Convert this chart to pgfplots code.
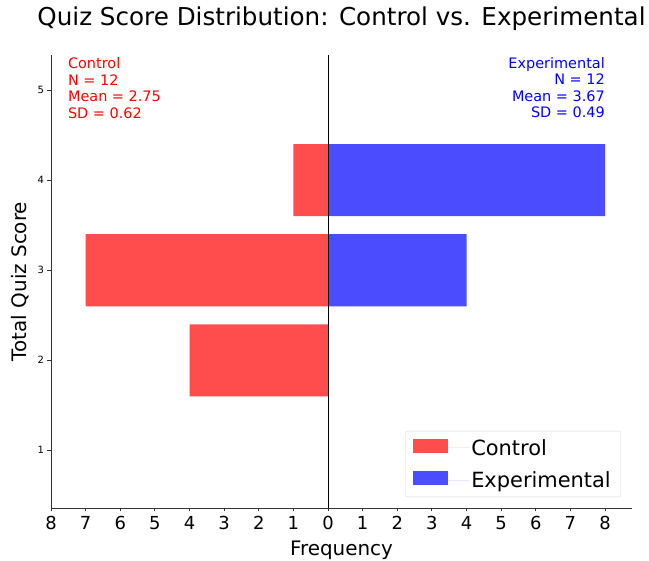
\documentclass[border=0pt]{standalone}
\usepackage{fontspec}
\setmainfont{DejaVu Sans}
\usepackage{pgfplots}
\pgfplotsset{compat=1.18}
\definecolor{ctrl}{HTML}{FF4C4C}
\definecolor{expc}{HTML}{4C4CFF}
\begin{document}
\begin{tikzpicture}[x=1bp,y=1bp]
\useasboundingbox (-51,-53) rectangle (598,508);
\begin{axis}[
  at={(0,0)}, anchor=south west,
  scale only axis, width=581bp, height=453bp,
  xmin=-8, xmax=8.78, ymin=0.36, ymax=5.39,
  axis x line*=bottom, axis y line*=left,
  axis line style={black!80, line width=0.8pt},
  xtick={-8,-7,-6,-5,-4,-3,-2,-1,0,1,2,3,4,5,6,7,8},
  xticklabels={8,7,6,5,4,3,2,1,0,1,2,3,4,5,6,7,8},
  ytick={1,2,3,4,5},
  tick align=outside, major tick length=3.5bp,
  tick style={black!80, line width=0.8pt},
  /pgf/number format/assume math mode=true,
  xticklabel style={font=\fontsize{18}{20}\selectfont, yshift=-1bp},
  yticklabel style={font=\fontsize{10}{12}\selectfont},
  xlabel={Frequency}, ylabel={Total Quiz Score},
  xlabel style={font=\fontsize{20}{24}\selectfont, yshift=-5bp},
  ylabel style={font=\fontsize{20}{24}\selectfont, yshift=2bp},
  title={Quiz Score Distribution: Control vs. Experimental},
  title style={font=\fontsize{24.7}{28}\selectfont, at={(0.5,1)}, anchor=base, yshift=24bp, inner sep=0pt},
  xbar, bar width=0.8, bar shift=0pt,
  legend style={at={(rel axis cs:0.981,0.024)}, anchor=south east,
    font=\fontsize{21}{24}\selectfont, draw=black!15, rounded corners=2pt,
    inner xsep=8bp, inner ysep=6bp, row sep=11bp},
  legend cell align=left,
  legend image code/.code={\fill[#1, sharp corners] (0bp,-5bp) rectangle (35bp,9bp); \path (0bp,0bp) -- (56bp,0bp);},
]
\addplot[fill=ctrl, draw=none] coordinates {(-1,4) (-7,3) (-4,2)};
\addlegendentry{Control}
\addplot[fill=expc, draw=none] coordinates {(8,4) (4,3)};
\addlegendentry{Experimental}
\addplot[xbar=0pt, sharp plot, black, line width=0.8pt, forget plot] coordinates {(0,0.36) (0,5.39)};
\node[anchor=north west, align=left, text=red, font=\fontsize{14.5}{16.5}\selectfont, inner sep=0pt]
  at (rel axis cs:0.029,0.994) {Control\\N = 12\\Mean = 2.75\\SD = 0.62};
\node[anchor=north east, align=right, text=blue, font=\fontsize{14.5}{16.5}\selectfont, inner sep=0pt]
  at (axis cs:8,5.39) [yshift=-2bp] {Experimental\\N = 12\\Mean = 3.67\\SD = 0.49};
\end{axis}
\end{tikzpicture}
\end{document}
